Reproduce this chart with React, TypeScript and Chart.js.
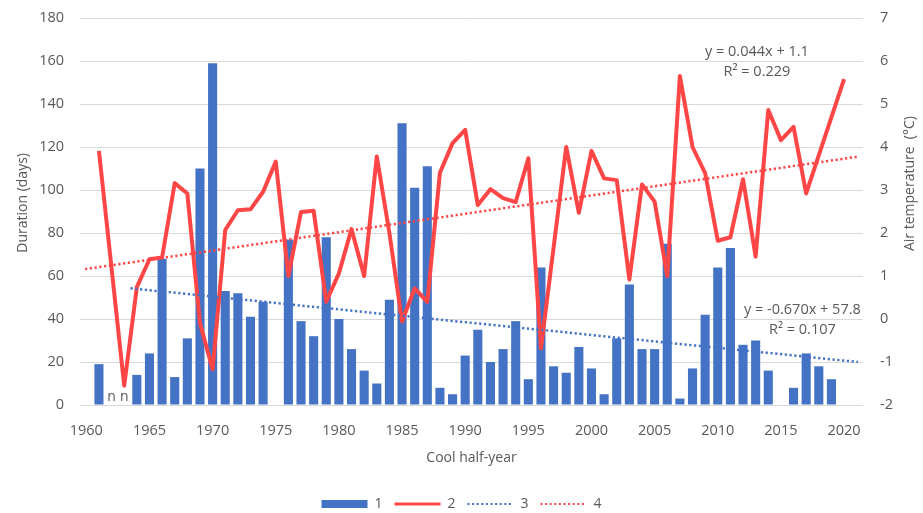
import { useEffect, useRef } from "react";
import { Chart, registerables } from "chart.js";

Chart.register(...registerables);

const years = [
  "1960", "1961", "1962", "1963", "1964", "1965", "1966", "1967", "1968", "1969",
  "1970", "1971", "1972", "1973", "1974", "1975", "1976", "1977", "1978", "1979",
  "1980", "1981", "1982", "1983", "1984", "1985", "1986", "1987", "1988", "1989",
  "1990", "1991", "1992", "1993", "1994", "1995", "1996", "1997", "1998", "1999",
  "2000", "2001", "2002", "2003", "2004", "2005", "2006", "2007", "2008", "2009",
  "2010", "2011", "2012", "2013", "2014", "2015", "2016", "2017", "2018", "2019",
  "2020", "2021",
];

const xTickLabels = ["1960", "1965", "1970", "1975", "1980", "1985", "1990", "1995", "2000", "2005", "2010", "2015", "2020"];

// Series 1: duration (days)
const durationDays = [
  null, 19, null, null, 14, 24, 68, 13, 31, 110,
  159, 53, 52, 41, 48, null, 77, 39, 32, 78,
  40, 26, 16, 10, 49, 131, 101, 111, 8, 5,
  23, 35, 20, 26, 39, 12, 64, 18, 15, 27,
  17, 5, 31, 56, 26, 26, 75, 3, 17, 42,
  64, 73, 28, 30, 16, null, 8, 24, 18, 12,
  null, null,
];

// Series 2: air temperature (°C)
const airTemp = [
  null, 3.91, null, -1.55, 0.74, 1.39, 1.43, 3.16, 2.92, -0.1,
  -1.17, 2.07, 2.53, 2.55, 2.96, 3.66, 1.0, 2.49, 2.52, 0.4,
  1.06, 2.09, 1.0, 3.78, 2.0, -0.06, 0.71, 0.4, 3.4, 4.09,
  4.4, 2.65, 3.02, 2.81, 2.72, 3.74, -0.68, null, 4.0, 2.47,
  3.91, 3.27, 3.23, 0.92, 3.13, 2.73, 1.0, 5.65, 4.0, 3.39,
  1.82, 1.9, 3.25, 1.45, 4.86, 4.16, 4.47, 2.92, null, null,
  5.58, null,
];

// Series 3: linear trend of duration (end points)
const trendDaysX = [1963.5, 2021.1];
const trendDaysY = [54.3, 20.0];

// Series 4: linear trend of temperature (end points)
const trendTempX = [1959.9, 2021.2];
const trendTempY = [1.16, 3.78];

const seriesNames = ["1", "2", "3", "4"];
const noDataYears = ["1962", "1963"];
const noDataMark = "n";
const eqTemp = ["y = 0.044x + 1.1", "R² = 0.229"];
const eqDays = ["y = -0.670x + 57.8", "R² = 0.107"];
const leftTitle = "Duration (days)";
const rightTitle = "Air temperature  (°C)";
const bottomTitle = "Cool half-year";

const BLUE = "#4472C4";
const RED = "#FF4646";
const TEXT = "#595959";
const FONT = "'Open Sans', 'Liberation Sans', sans-serif";
const CLEAR = "rgba(0,0,0,0)";

const annotationPlugin = {
  id: "annotations",
  afterDatasetsDraw(chart: any) {
    const { ctx, scales } = chart;
    const x = scales.x;
    const xt = scales.xt;
    const y = scales.y;
    const y1 = scales.y1;
    ctx.save();
    ctx.fillStyle = TEXT;
    ctx.font = `14px ${FONT}`;
    ctx.textAlign = "center";
    ctx.textBaseline = "bottom";
    noDataYears.forEach((yr) => {
      const idx = years.indexOf(yr);
      ctx.fillText(noDataMark, x.getPixelForValue(idx), y.getPixelForValue(0) - 1);
    });
    ctx.textBaseline = "middle";
    ctx.font = `14.5px ${FONT}`;
    ctx.fillText(eqTemp[0], xt.getPixelForValue(2013.1), y1.getPixelForValue(6.21));
    ctx.fillText(eqTemp[1], xt.getPixelForValue(2013.1), y1.getPixelForValue(5.74));
    ctx.fillText(eqDays[0], xt.getPixelForValue(2016.7), y1.getPixelForValue(0.21));
    ctx.fillText(eqDays[1], xt.getPixelForValue(2016.7), y1.getPixelForValue(-0.26));

    // vertical axis titles (both read bottom-to-top)
    ctx.font = `14px ${FONT}`;
    ctx.save();
    ctx.translate(y.left + 23, y.getPixelForValue(94));
    ctx.rotate(-Math.PI / 2);
    ctx.fillText(leftTitle, 0, 0);
    ctx.restore();
    ctx.save();
    ctx.translate(y1.right - 13, y1.getPixelForValue(3.15));
    ctx.rotate(-Math.PI / 2);
    ctx.fillText(rightTitle, 0, 0);
    ctx.restore();
    ctx.restore();
  },
};

export default function App() {
  const ref = useRef<HTMLCanvasElement | null>(null);

  useEffect(() => {
    document.body.style.margin = "0";
    if (!ref.current) return;
    const chart = new Chart(ref.current, {
      type: "bar",
      data: {
        labels: years,
        datasets: [
          {
            type: "bar",
            label: seriesNames[0],
            data: durationDays,
            backgroundColor: BLUE,
            borderWidth: 0,
            grouped: false,
            barPercentage: 0.72,
            categoryPercentage: 1,
            yAxisID: "y",
            xAxisID: "x",
            order: 4,
          } as any,
          {
            type: "line",
            label: seriesNames[1],
            data: airTemp,
            borderColor: RED,
            backgroundColor: RED,
            borderWidth: 4,
            borderJoinStyle: "round",
            pointRadius: 0,
            tension: 0,
            spanGaps: true,
            yAxisID: "y1",
            xAxisID: "x",
            order: 3,
          } as any,
          {
            type: "line",
            label: seriesNames[2],
            data: trendDaysX.map((v, i) => ({ x: v, y: trendDaysY[i] })),
            borderColor: BLUE,
            borderWidth: 2.5,
            borderDash: [2.2, 2.6],
            pointRadius: 0,
            yAxisID: "y",
            xAxisID: "xt",
            order: 2,
          } as any,
          {
            type: "line",
            label: seriesNames[3],
            data: trendTempX.map((v, i) => ({ x: v, y: trendTempY[i] })),
            borderColor: RED,
            borderWidth: 2.5,
            borderDash: [2.2, 2.6],
            pointRadius: 0,
            yAxisID: "y1",
            xAxisID: "xt",
            order: 1,
          } as any,
        ],
      },
      options: {
        animation: false,
        responsive: true,
        maintainAspectRatio: false,
        layout: { padding: { top: 18, bottom: 0, left: 0, right: 0 } },
        plugins: {
          tooltip: { enabled: false },
          legend: {
            position: "bottom",
            maxHeight: 28,
            labels: {
              color: TEXT,
              font: { family: FONT, size: 14 },
              usePointStyle: true,
              pointStyleWidth: 46,
              boxWidth: 46,
              boxHeight: 8,
              padding: 12,
              generateLabels: () => [
                { text: seriesNames[0], fillStyle: BLUE, strokeStyle: BLUE, lineWidth: 0, pointStyle: "rect", datasetIndex: 0, hidden: false, fontColor: TEXT },
                { text: seriesNames[1], fillStyle: RED, strokeStyle: RED, lineWidth: 3, lineCap: "butt", pointStyle: "line", datasetIndex: 1, hidden: false, fontColor: TEXT },
                { text: seriesNames[2], fillStyle: BLUE, strokeStyle: BLUE, lineWidth: 2.2, lineDash: [2, 2.6], pointStyle: "line", datasetIndex: 2, hidden: false, fontColor: TEXT },
                { text: seriesNames[3], fillStyle: RED, strokeStyle: RED, lineWidth: 2.2, lineDash: [2, 2.6], pointStyle: "line", datasetIndex: 3, hidden: false, fontColor: TEXT },
              ] as any,
            },
          },
        },
        scales: {
          x: {
            type: "category",
            offset: true,
            grid: { display: false },
            border: { display: false },
            ticks: {
              autoSkip: false,
              maxRotation: 0,
              color: TEXT,
              font: { family: FONT, size: 14.5 },
              padding: 9,
              callback: (_v: any, i: number) => (xTickLabels.includes(years[i]) ? years[i] : null),
            },
            title: {
              display: true,
              text: bottomTitle,
              color: TEXT,
              font: { family: FONT, size: 14 },
              padding: { top: 0, bottom: 19 },
            },
            afterFit: (s: any) => {
              s.height = 80;
            },
          },
          xt: {
            type: "linear",
            display: false,
            offset: false,
            min: 1959.5,
            max: 2021.5,
            grid: { offset: false },
          },
          y: {
            type: "linear",
            position: "left",
            min: 0,
            max: 180,
            ticks: { stepSize: 20, color: TEXT, font: { family: FONT, size: 14.5 }, padding: 4 },
            grid: { color: "#D9D9D9", drawTicks: true, tickLength: 12, tickColor: CLEAR, lineWidth: 1 },
            border: { display: false },
            afterFit: (s: any) => {
              s.width = 80;
            },
          },
          y1: {
            type: "linear",
            position: "right",
            min: -2,
            max: 7,
            ticks: { stepSize: 1, color: TEXT, font: { family: FONT, size: 14.5 }, padding: 4 },
            grid: { drawOnChartArea: false, drawTicks: true, tickLength: 13, tickColor: CLEAR, color: CLEAR },
            border: { display: false },
            afterFit: (s: any) => {
              s.width = 60;
            },
          },
        },
      } as any,
      plugins: [annotationPlugin],
    });
    return () => chart.destroy();
  }, []);

  return (
    <div style={{ width: 923, height: 513, position: "relative" }}>
      <canvas ref={ref} />
    </div>
  );
}
